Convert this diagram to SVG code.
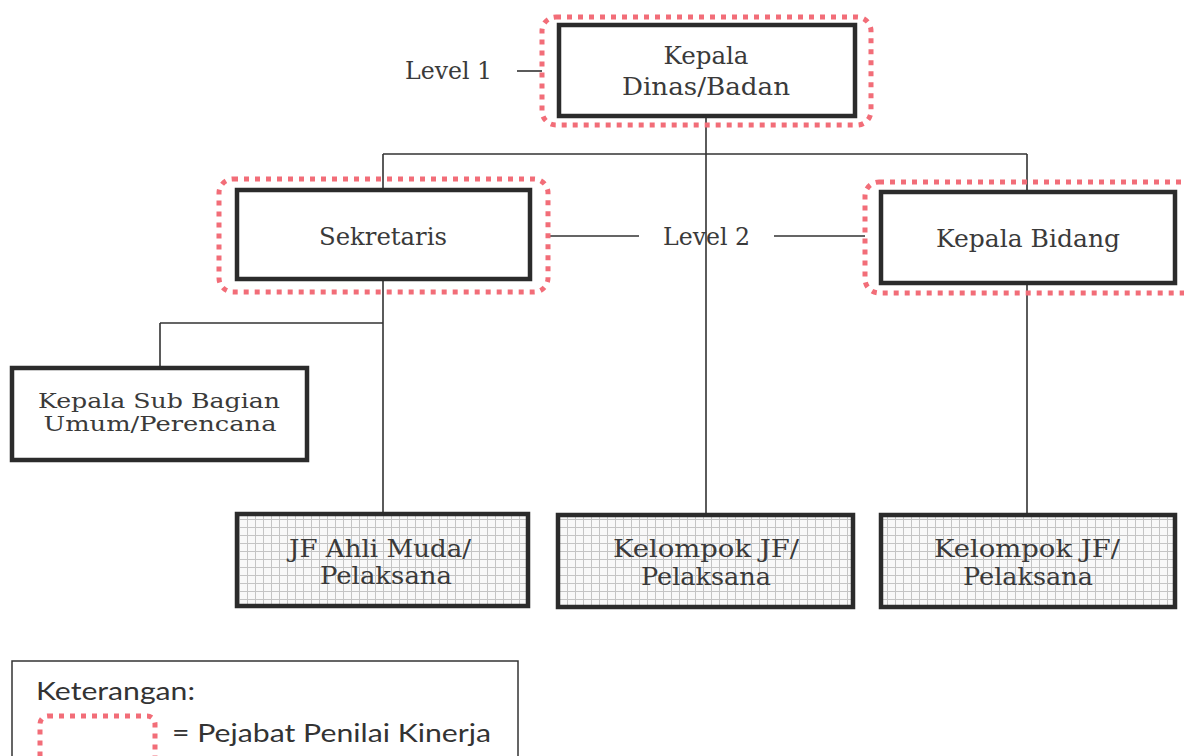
<svg xmlns="http://www.w3.org/2000/svg" width="1184" height="756" viewBox="0 0 1184 756">
<style>
.box{fill:#fff;stroke:#2b2b2b;stroke-width:4.5}
.gbox{fill:url(#grid);stroke:#2b2b2b;stroke-width:4.5}
.dot{fill:none;stroke:#f26d78;stroke-width:5;stroke-dasharray:5 6}
.t{font-family:"DejaVu Serif","Liberation Serif",serif;font-size:24px;fill:#3a3a3a}
.sm{font-size:21px}
.c{text-anchor:middle}
.s{font-family:Lato,"Open Sans","Liberation Sans",sans-serif;font-size:25px;fill:#333}
.ln{fill:none;stroke:#333;stroke-width:1.6}
</style>
<defs>
<pattern id="grid" width="8" height="8" patternUnits="userSpaceOnUse">
<rect width="8" height="8" fill="#f8f8f8"/>
<path d="M7.5 0V8M0 7.5H8" stroke="#c4c4c4" stroke-width="1"/>
</pattern>
</defs>
<rect width="1184" height="756" fill="#fff"/>
<g id="connectors">
<path class="ln" d="M706 116V515"/>
<path class="ln" d="M383 154H1027M383 154V190M1027 154V192"/>
<path class="ln" d="M383 279V514M160 323H383M160 323V368"/>
<path class="ln" d="M1027 283V515"/>
<path class="ln" d="M517 71H542"/>
<path class="ln" d="M548 236H639M774 236H865"/>
</g>
<g id="level1-label"><text class="t" x="405" y="79" textLength="87" lengthAdjust="spacingAndGlyphs">Level 1</text></g>
<g id="level2-label"><text class="t" x="663" y="245" textLength="87" lengthAdjust="spacingAndGlyphs">Level 2</text></g>
<g id="kepala-dinas">
<rect class="dot" x="542" y="17" width="329" height="108" rx="14"/>
<rect class="box" x="559" y="25" width="296" height="91"/>
<text class="t c" x="706" y="64" textLength="85" lengthAdjust="spacingAndGlyphs">Kepala</text>
<text class="t c" x="706" y="95" textLength="168" lengthAdjust="spacingAndGlyphs">Dinas/Badan</text>
</g>
<g id="sekretaris">
<rect class="dot" x="219" y="179" width="329" height="113" rx="14"/>
<rect class="box" x="237" y="190" width="293" height="89"/>
<text class="t c" x="383" y="245" textLength="128" lengthAdjust="spacingAndGlyphs">Sekretaris</text>
</g>
<g id="kepala-bidang">
<rect class="dot" x="865" y="182" width="332" height="111" rx="14"/>
<rect class="box" x="881" y="192" width="294" height="91"/>
<text class="t c" x="1028" y="247" textLength="184" lengthAdjust="spacingAndGlyphs">Kepala Bidang</text>
</g>
<g id="kepala-sub-bagian">
<rect class="box" x="12" y="368" width="295" height="92"/>
<text class="t sm c" x="159" y="408" textLength="242" lengthAdjust="spacingAndGlyphs">Kepala Sub Bagian</text>
<text class="t sm c" x="160" y="431" textLength="233" lengthAdjust="spacingAndGlyphs">Umum/Perencana</text>
</g>
<g id="jf-ahli-muda">
<rect class="gbox" x="237" y="514" width="291" height="92"/>
<text class="t c" x="380" y="557" textLength="182" lengthAdjust="spacingAndGlyphs">JF Ahli Muda/</text>
<text class="t c" x="386" y="584" textLength="132" lengthAdjust="spacingAndGlyphs">Pelaksana</text>
</g>
<g id="kelompok-jf-1">
<rect class="gbox" x="558" y="515" width="295" height="92"/>
<text class="t c" x="706" y="557" textLength="186" lengthAdjust="spacingAndGlyphs">Kelompok JF/</text>
<text class="t c" x="706" y="585" textLength="130" lengthAdjust="spacingAndGlyphs">Pelaksana</text>
</g>
<g id="kelompok-jf-2">
<rect class="gbox" x="881" y="515" width="294" height="92"/>
<text class="t c" x="1027" y="557" textLength="186" lengthAdjust="spacingAndGlyphs">Kelompok JF/</text>
<text class="t c" x="1028" y="585" textLength="130" lengthAdjust="spacingAndGlyphs">Pelaksana</text>
</g>
<g id="legend">
<rect x="12" y="661" width="506" height="110" fill="#fff" stroke="#333" stroke-width="1.5"/>
<text class="s" x="36" y="700" textLength="159" lengthAdjust="spacingAndGlyphs">Keterangan:</text>
<rect class="dot" x="40" y="716" width="115" height="52" rx="8"/>
<text class="s" x="172" y="742" textLength="319" lengthAdjust="spacingAndGlyphs">= Pejabat Penilai Kinerja</text>
</g>
</svg>
